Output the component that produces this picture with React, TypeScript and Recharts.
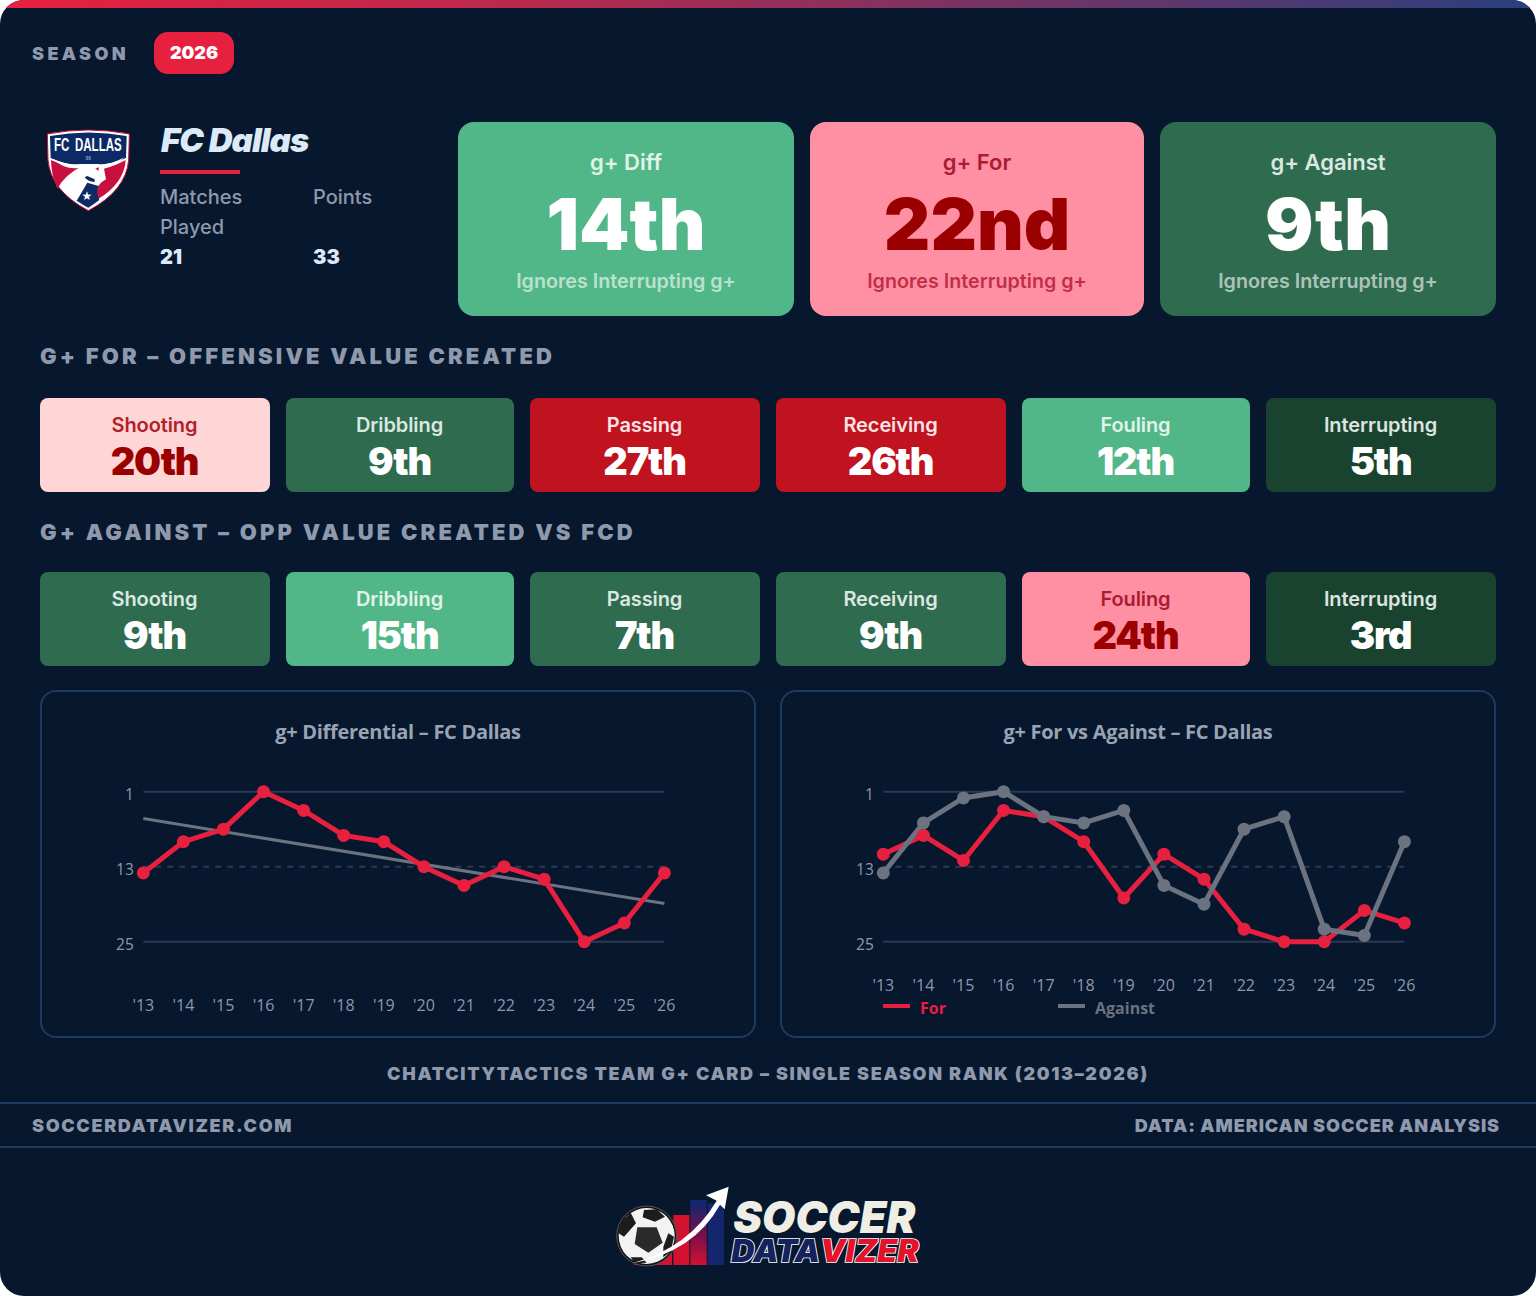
import React from "react";
import {
  LineChart,
  Line,
  XAxis,
  YAxis,
  ReferenceLine,
  Legend,
} from "recharts";

// ─── Data ─────────────────────────────────────────────────────────────────────

const seasons = ["'13", "'14", "'15", "'16", "'17", "'18", "'19", "'20", "'21", "'22", "'23", "'24", "'25", "'26"];
const diffRank = [14, 9, 7, 1, 4, 8, 9, 13, 16, 13, 15, 25, 22, 14];
const trendRank = [5.3, null, null, null, null, null, null, null, null, null, null, null, null, 18.9];
const forRank = [11, 8, 12, 4, 5, 9, 18, 11, 15, 23, 25, 25, 20, 22];
const againstRank = [14, 6, 2, 1, 5, 6, 4, 16, 19, 7, 5, 23, 24, 9];
const rankTicks = [1, 13, 25];

const heroLabels = ["g+ Diff", "g+ For", "g+ Against"];
const heroRanks = ["14th", "22nd", "9th"];
const forLabels = ["Shooting", "Dribbling", "Passing", "Receiving", "Fouling", "Interrupting"];
const forRanks = ["20th", "9th", "27th", "26th", "12th", "5th"];
const againstRanks = ["9th", "15th", "7th", "9th", "24th", "3rd"];

const diffData = seasons.map((s, i) => ({ season: s, diff: diffRank[i], trend: trendRank[i] }));
const versusData = seasons.map((s, i) => ({ season: s, For: forRank[i], Against: againstRank[i] }));

// ─── Colours ──────────────────────────────────────────────────────────────────

const NAVY = "#06172e";
const RED = "#e8203f";
const GREY = "#6b7280";
const PANEL = "#1e3a5f";
const MUTED = "#8f99ab";

function rankColors(rank: string) {
  const n = parseInt(rank, 10);
  if (n <= 5) return { bg: "#1a432f", label: "#dbe5df", value: "#ffffff" };
  if (n <= 11) return { bg: "#2f6b4f", label: "#dbe8e1", value: "#ffffff" };
  if (n <= 16) return { bg: "#52b788", label: "#e0f3e8", value: "#ffffff" };
  if (n <= 20) return { bg: "#ffd6d6", label: "#b3202c", value: "#9b0000" };
  if (n <= 25) return { bg: "#ff8fa3", label: "#ab1b32", value: "#9b0000" };
  return { bg: "#c1121f", label: "#fbe3e5", value: "#ffffff" };
}

// ─── Tiles ────────────────────────────────────────────────────────────────────

function HeroTile({ x, w, label, rank }: { x: number; w: number; label: string; rank: string }) {
  const c = rankColors(rank);
  const sub = rank === "22nd" ? "rgba(176,20,45,0.8)" : "rgba(255,255,255,0.62)";
  return (
    <div style={{ position: "absolute", left: x, top: 122, width: w, height: 194, background: c.bg, borderRadius: 16, textAlign: "center" }}>
      <div style={{ position: "absolute", top: 27, width: "100%", fontSize: 22, lineHeight: "27px", fontWeight: 600, color: c.label }}>{label}</div>
      <div style={{ position: "absolute", top: 58, width: "100%", fontSize: 72, lineHeight: "88px", fontWeight: 900, color: c.value }}>{rank}</div>
      <div style={{ position: "absolute", top: 146, width: "100%", fontSize: 19.7, lineHeight: "26px", fontWeight: 600, color: sub }}>Ignores Interrupting g+</div>
    </div>
  );
}

const tileX = [40, 286, 530, 776, 1022, 1266];
const tileW = [230, 228, 230, 230, 228, 230];

function SmallTile({ i, top, label, rank }: { i: number; top: number; label: string; rank: string }) {
  const c = rankColors(rank);
  return (
    <div style={{ position: "absolute", left: tileX[i], top, width: tileW[i], height: 94, background: c.bg, borderRadius: 8, textAlign: "center" }}>
      <div style={{ position: "absolute", top: 14, width: "calc(100% - 1px)", fontSize: 20, lineHeight: "26px", fontWeight: 600, letterSpacing: -0.1, color: c.label }}>{label}</div>
      <div style={{ position: "absolute", top: 39.5, width: "calc(100% - 1px)", fontSize: 38, lineHeight: "46px", fontWeight: 900, letterSpacing: -1.2, color: c.value }}>{rank}</div>
    </div>
  );
}

// ─── Charts ───────────────────────────────────────────────────────────────────

const CHART_W = 712;
const CHART_H = 344;

function RankDot({ cx, cy, stroke }: any) {
  if (cx == null || cy == null) return null;
  return <circle cx={cx} cy={cy} r={6.5} fill={stroke} />;
}

function VersusLegend({ payload }: any) {
  return (
    <div style={{ display: "flex", marginLeft: 101, height: 27, lineHeight: "27px", fontFamily: "Open Sans", fontSize: 16, fontWeight: 700 }}>
      {(payload ?? []).map((p: any) => (
        <div key={p.value} style={{ width: 175, display: "flex", alignItems: "center", color: p.color }}>
          <span style={{ display: "inline-block", width: 27, height: 4, marginRight: 10, marginTop: -6, background: p.color }} />
          {p.value}
        </div>
      ))}
    </div>
  );
}

function ChartPanel({ left, title, children }: { left: number; title: string; children: React.ReactNode }) {
  return (
    <div style={{ position: "absolute", left, top: 690, width: 716, height: 348, boxSizing: "border-box", border: `2px solid ${PANEL}`, borderRadius: 16 }}>
      <div style={{ position: "absolute", left: 0, top: 27, width: CHART_W, textAlign: "center", fontFamily: "Open Sans", fontSize: 20, lineHeight: "26px", fontWeight: 700, letterSpacing: -0.3, color: "#9aa3b2" }}>{title}</div>
      {children}
    </div>
  );
}

const xTick = { fill: MUTED, fontSize: 16, fontFamily: "Open Sans" };
const yTick = { fill: MUTED, fontSize: 15.5, fontFamily: "Open Sans", dy: 3 };
const gridStroke = "#2a3a52";

function DiffChart() {
  return (
    <LineChart width={CHART_W} height={CHART_H} data={diffData} margin={{ top: 99.7, right: 89.6, left: 0, bottom: 20 }}>
      <XAxis dataKey="season" interval={0} axisLine={false} tickLine={false} tick={xTick} tickMargin={52} height={74.3} />
      <YAxis reversed domain={[1, 25]} ticks={rankTicks} width={101.3} axisLine={false} tickLine={false} tick={yTick} tickMargin={3.5} />
      <ReferenceLine y={1} stroke={gridStroke} strokeWidth={2} />
      <ReferenceLine y={13} stroke={gridStroke} strokeWidth={2} strokeDasharray="6 6" />
      <ReferenceLine y={25} stroke={gridStroke} strokeWidth={2} />
      <Line dataKey="trend" connectNulls stroke={GREY} strokeWidth={3} dot={false} isAnimationActive={false} />
      <Line dataKey="diff" stroke={RED} strokeWidth={5} dot={<RankDot />} isAnimationActive={false} />
    </LineChart>
  );
}

function VersusChart() {
  return (
    <LineChart width={CHART_W} height={CHART_H} data={versusData} margin={{ top: 99.7, right: 89.6, left: 0, bottom: 14 }}>
      <XAxis dataKey="season" interval={0} axisLine={false} tickLine={false} tick={xTick} tickMargin={32} height={53.3} />
      <YAxis reversed domain={[1, 25]} ticks={rankTicks} width={101.3} axisLine={false} tickLine={false} tick={yTick} tickMargin={3.5} />
      <Legend content={<VersusLegend />} verticalAlign="bottom" itemSorter={null} />
      <ReferenceLine y={1} stroke={gridStroke} strokeWidth={2} />
      <ReferenceLine y={13} stroke={gridStroke} strokeWidth={2} strokeDasharray="6 6" />
      <ReferenceLine y={25} stroke={gridStroke} strokeWidth={2} />
      <Line dataKey="For" stroke={RED} strokeWidth={5} dot={<RankDot />} isAnimationActive={false} />
      <Line dataKey="Against" stroke={GREY} strokeWidth={5} dot={<RankDot />} isAnimationActive={false} />
    </LineChart>
  );
}

// ─── Logos ────────────────────────────────────────────────────────────────────

function Crest() {
  return (
    <svg style={{ position: "absolute", left: 30, top: 120 }} width={120} height={100} viewBox="0 0 360 300">
      <path d="M52 42 Q175 18 298 42 L296 120 Q288 212 175 272 Q62 212 54 120 Z" fill="#ffffff" stroke="#c8103f" strokeWidth={3} />
      <path d="M60 48 Q175 27 290 48 L288 114 Q240 134 205 134 L145 134 Q105 134 62 114 Z" fill="#0b2a66" />
      <path d="M63 120 Q105 140 150 142 Q105 165 82 206 Q64 170 63 120 Z" fill="#c8103f" />
      <path d="M287 120 Q250 140 222 146 L228 178 Q192 196 203 238 Q283 190 287 120 Z" fill="#c8103f" />
      <path d="M140 242 L172 188 L206 198 Q196 218 208 240 Q190 254 175 263 Q158 254 140 242 Z" fill="#0b2a66" />
      <path d="M68 116 Q112 138 152 132 L198 132 Q240 138 282 112 Q246 152 198 143 L152 143 Q106 152 68 116 Z" fill="#ffffff" />
      <path d="M160 132 L205 132 L226 174 L196 188 L166 180 Z" fill="#ffffff" />
      <path d="M164 172 Q172 184 194 186 L194 178 L172 168 Z" fill="#0b2a66" />
      <path d="M196 146 L206 142 L206 152 Z" fill="#c8103f" />
      <text x={72} y={92} fontFamily="Liberation Sans" fontWeight={700} fontSize={55} fill="#ffffff" textLength={46} lengthAdjust="spacingAndGlyphs">FC</text>
      <text x={135} y={92} fontFamily="Liberation Sans" fontWeight={700} fontSize={55} fill="#ffffff" textLength={140} lengthAdjust="spacingAndGlyphs">DALLAS</text>
      <text x={175} y={119} textAnchor="middle" fontFamily="Liberation Sans" fontSize={15} fill="#b9c3d8">96</text>
      <text x={171} y={239} textAnchor="middle" fontFamily="DejaVu Sans" fontSize={36} fill="#ffffff">★</text>
    </svg>
  );
}

function BrandLogo() {
  return (
    <svg style={{ position: "absolute", left: 600, top: 1170 }} width={340} height={110} viewBox="0 0 1020 330">
      <defs>
        <linearGradient id="midBar" x1="0" y1="0" x2="0" y2="1">
          <stop offset="0.05" stopColor="#14266e" />
          <stop offset="0.55" stopColor="#7a0f4a" />
          <stop offset="1" stopColor="#d3122f" />
        </linearGradient>
      </defs>
      <rect x={102} y={225} width={62} height={60} fill="#d3122f" />
      <rect x={168} y={180} width={48} height={105} fill="#d3122f" />
      <rect x={220} y={135} width={48} height={150} fill="#d3122f" />
      <rect x={271} y={90} width={49} height={195} fill="url(#midBar)" />
      <rect x={323} y={100} width={49} height={185} fill="#14266e" />
      <circle cx={140} cy={198} r={90} fill="#151515" stroke="#555" strokeWidth={3} />
      <circle cx={140} cy={198} r={84} fill="#f3f3f3" />
      <path d="M112 172 L170 172 L188 218 L145 248 L104 222 Z" fill="#2a2a2a" />
      <path d="M60 160 L92 128 L108 160 L72 200 L56 190 Z M132 120 L170 118 L195 140 L165 155 L128 142 Z M205 190 L222 200 L212 245 L190 262 L190 230 Z M92 262 L125 262 L140 278 L105 280 Z" fill="#1c1c1c" />
      <path d="M96 280 Q268 232 350 92 L318 76 L386 50 L374 118 L360 104 Q282 246 96 280 Z" fill="#ffffff" />
      <text x={400} y={190} fontFamily="Inter" fontStyle="italic" fontWeight={900} fontSize={132} fill="#eeeee4" textLength={546} lengthAdjust="spacingAndGlyphs">SOCCER</text>
      <text x={394} y={276} fontFamily="Inter" fontStyle="italic" fontWeight={900} fontSize={92} stroke="#ffffff" strokeWidth={5} paintOrder="stroke" textLength={562} lengthAdjust="spacingAndGlyphs">
        <tspan fill="#14225e">DATA</tspan>
        <tspan fill="#e3132c">VIZER</tspan>
      </text>
    </svg>
  );
}

// ─── Main ─────────────────────────────────────────────────────────────────────

function SectionHead({ top, children }: { top: number; children: React.ReactNode }) {
  return (
    <div style={{ position: "absolute", left: 40, top, fontSize: 22, lineHeight: "28px", fontWeight: 900, letterSpacing: 3.16, color: MUTED }}>{children}</div>
  );
}

export default function App() {
  const heroX = [458, 810, 1160];
  const heroW = [336, 334, 336];
  return (
    <div style={{ position: "absolute", left: 0, top: 0, width: 1536, height: 1296, background: NAVY, borderRadius: 24, overflow: "hidden", fontFamily: "Inter, sans-serif" }}>
      <div style={{ position: "absolute", left: 0, top: 0, width: 1536, height: 8, background: "linear-gradient(90deg, #e8203f 0%, #b72a4e 35%, #2a3f7e 100%)" }} />

      <div style={{ position: "absolute", left: 32, top: 42, fontSize: 18, lineHeight: "24px", fontWeight: 900, letterSpacing: 3.4, color: MUTED }}>SEASON</div>
      <div style={{ position: "absolute", left: 154, top: 32, width: 80, height: 42, borderRadius: 14, background: RED, color: "#fff", fontSize: 18, fontWeight: 900, lineHeight: "42px", textAlign: "center" }}>2026</div>

      <Crest />
      <div style={{ position: "absolute", left: 161, top: 119, fontSize: 33, lineHeight: "42px", fontWeight: 900, fontStyle: "italic", letterSpacing: -0.95, color: "#dce9f7" }}>FC Dallas</div>
      <div style={{ position: "absolute", left: 160, top: 170, width: 80, height: 4, background: RED }} />
      <div style={{ position: "absolute", left: 160, top: 182, fontSize: 20, lineHeight: "30px", fontWeight: 500, color: MUTED }}>Matches<br />Played</div>
      <div style={{ position: "absolute", left: 313, top: 182, fontSize: 20, lineHeight: "30px", fontWeight: 500, color: MUTED }}>Points</div>
      <div style={{ position: "absolute", left: 160, top: 242, fontSize: 20, lineHeight: "30px", fontWeight: 900, color: "#dce9f7" }}>21</div>
      <div style={{ position: "absolute", left: 313, top: 242, fontSize: 20, lineHeight: "30px", fontWeight: 900, color: "#dce9f7" }}>33</div>

      {heroLabels.map((l, i) => (
        <HeroTile key={l} x={heroX[i]} w={heroW[i]} label={l} rank={heroRanks[i]} />
      ))}

      <SectionHead top={342}>G+ FOR – OFFENSIVE VALUE CREATED</SectionHead>
      {forLabels.map((l, i) => (
        <SmallTile key={l} i={i} top={398} label={l} rank={forRanks[i]} />
      ))}

      <SectionHead top={518}>G+ AGAINST – OPP VALUE CREATED VS FCD</SectionHead>
      {forLabels.map((l, i) => (
        <SmallTile key={l} i={i} top={572} label={l} rank={againstRanks[i]} />
      ))}

      <ChartPanel left={40} title="g+ Differential – FC Dallas"><DiffChart /></ChartPanel>
      <ChartPanel left={780} title="g+ For vs Against – FC Dallas"><VersusChart /></ChartPanel>

      <div style={{ position: "absolute", left: 0, width: 1536, top: 1061, textAlign: "center", fontSize: 18, lineHeight: "26px", fontWeight: 900, letterSpacing: 1.67, color: MUTED }}>CHATCITYTACTICS TEAM G+ CARD – SINGLE SEASON RANK (2013–2026)</div>

      <div style={{ position: "absolute", left: 0, top: 1102, width: 1536, height: 46, boxSizing: "border-box", borderTop: `2px solid ${PANEL}`, borderBottom: `2px solid ${PANEL}` }} />
      <div style={{ position: "absolute", left: 32, top: 1113, fontSize: 18, lineHeight: "26px", fontWeight: 900, letterSpacing: 1.65, color: MUTED }}>SOCCERDATAVIZER.COM</div>
      <div style={{ position: "absolute", right: 36, top: 1113, fontSize: 18, lineHeight: "26px", fontWeight: 900, letterSpacing: 0.93, color: MUTED }}>DATA: AMERICAN SOCCER ANALYSIS</div>

      <BrandLogo />
    </div>
  );
}
